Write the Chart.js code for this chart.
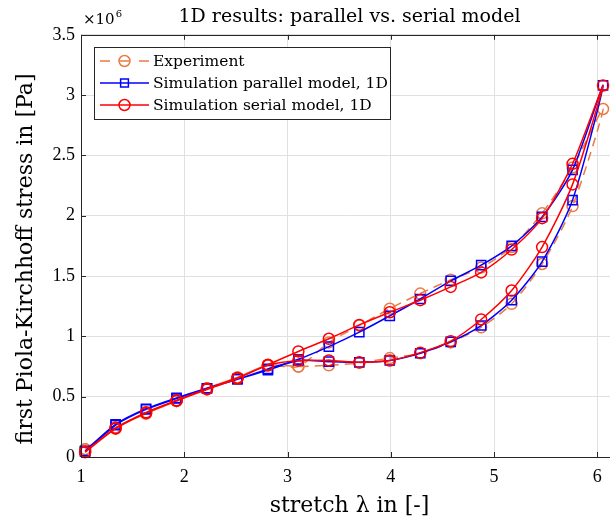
<!DOCTYPE html>
<html>
<head>
<meta charset="utf-8">
<script src="https://cdn.jsdelivr.net/npm/chart.js@4.4.1/dist/chart.umd.min.js"></script>
<style>
  html, body { margin: 0; padding: 0; background: #fff; overflow: hidden; }
  #wrap { width: 640px; height: 522px; }
</style>
</head>
<body>
<div id="wrap"><canvas id="loop" width="640" height="522"></canvas></div>
<script>
(function () {

// ---------------------------------------------------------------------------------------------------
// stretch steps (shared by loading and unloading), stress in 1e6 Pa

var stretch = [1.04, 1.335, 1.63, 1.925, 2.22, 2.515, 2.81, 3.105, 3.40,
               3.695, 3.99, 4.285, 4.58, 4.875, 5.17, 5.465, 5.76, 6.055];

// upper branch, index 0..17
var expUpper = [0.065, 0.245, 0.36, 0.465, 0.57, 0.66, 0.76, 0.75, 0.95,
                1.09, 1.23, 1.355, 1.47, 1.57, 1.74, 2.02, 2.40, 2.885];
var parUpper = [0.05, 0.27, 0.40, 0.49, 0.57, 0.645, 0.73, 0.81, 0.915,
                1.035, 1.17, 1.31, 1.46, 1.59, 1.75, 1.99, 2.38, 3.08];
var serUpper = [0.045, 0.24, 0.37, 0.47, 0.565, 0.655, 0.765, 0.875, 0.98,
                1.095, 1.20, 1.30, 1.41, 1.53, 1.72, 1.98, 2.43, 3.08];

// lower branch, index 0..16 (walked back from the last upper point)
var expLower = [0.065, 0.245, 0.36, 0.465, 0.57, 0.66, 0.76, 0.75, 0.76,
                0.78, 0.82, 0.86, 0.95, 1.075, 1.27, 1.60, 2.08];
var parLower = [0.045, 0.265, 0.395, 0.485, 0.57, 0.645, 0.72, 0.80, 0.79,
                0.785, 0.80, 0.86, 0.955, 1.09, 1.30, 1.62, 2.13];
var serLower = [0.04, 0.235, 0.365, 0.465, 0.56, 0.65, 0.76, 0.80, 0.80,
                0.785, 0.80, 0.865, 0.96, 1.14, 1.38, 1.74, 2.26];

var xTicks = [1, 2, 3, 4, 5, 6];
var yTicks = [0, 0.5, 1, 1.5, 2, 2.5, 3, 3.5];

var SERIF = "'DejaVu Serif', serif";
var DIGITS = "'Liberation Serif', serif";
var INK = '#262626';

// ---------------------------------------------------------------------------------------------------

function loop(upper, lower) {
    var pts = [];
    for (var i = 0; i < upper.length; i++) pts.push({ x: stretch[i], y: upper[i] });
    for (var j = lower.length - 1; j >= 0; j--) pts.push({ x: stretch[j], y: lower[j] });
    return pts;
}

function series(label, color, upper, lower, style, radius, dash, order) {
    return {
        label: label,
        data: loop(upper, lower),
        borderColor: color,
        borderWidth: 1.5,
        borderDash: dash,
        backgroundColor: 'rgba(0,0,0,0)',
        pointStyle: style,
        pointRadius: radius,
        pointBorderWidth: 1.5,
        pointBorderColor: color,
        pointBackgroundColor: 'rgba(0,0,0,0)',
        tension: 0.25,
        clip: 8,
        order: order
    };
}

// frame, inward ticks, y label and the x10^6 exponent
var framePlugin = {
    id: 'frame',
    afterDatasetsDraw: function (chart) {
        var a = chart.chartArea, ctx = chart.ctx;
        var xs = chart.scales.x, ys = chart.scales.y;
        ctx.save();
        ctx.strokeStyle = INK;
        ctx.lineWidth = 1;
        ctx.beginPath();
        xTicks.forEach(function (t) {
            var px = Math.round(xs.getPixelForValue(t)) + 0.5;
            ctx.moveTo(px, a.bottom); ctx.lineTo(px, a.bottom - 5);
            ctx.moveTo(px, a.top); ctx.lineTo(px, a.top + 5);
        });
        yTicks.forEach(function (t) {
            var py = Math.round(ys.getPixelForValue(t)) + 0.5;
            ctx.moveTo(a.left, py); ctx.lineTo(a.left + 5, py);
        });
        ctx.stroke();
        ctx.strokeRect(Math.round(a.left) + 0.5, Math.round(a.top) + 0.5,
                       Math.round(a.right - a.left), Math.round(a.bottom - a.top));

        ctx.fillStyle = '#000';
        ctx.textBaseline = 'alphabetic';
        ctx.textAlign = 'left';
        ctx.font = '15px ' + SERIF;
        ctx.fillText('\u00d710', a.left + 2, a.top - 11);
        var w = ctx.measureText('\u00d710').width;
        ctx.font = '10px ' + SERIF;
        ctx.fillText('6', a.left + 3 + w, a.top - 18);

        ctx.translate(32, 259);
        ctx.rotate(-Math.PI / 2);
        ctx.textAlign = 'center';
        ctx.font = '22px ' + SERIF;
        ctx.fillText('first Piola-Kirchhoff stress in [Pa]', 0, 0);
        ctx.restore();
    }
};

// boxed legend in the upper left of the axes
var legendPlugin = {
    id: 'boxLegend',
    afterDraw: function (chart) {
        var ctx = chart.ctx;
        var bx = 94.5, by = 47.5, bw = 296, bh = 72, row = 22;
        ctx.save();
        ctx.fillStyle = '#fff';
        ctx.fillRect(bx, by, bw, bh);
        ctx.strokeStyle = INK;
        ctx.lineWidth = 1;
        ctx.strokeRect(bx, by, bw, bh);
        chart.data.datasets.forEach(function (ds, i) {
            var y = by + 13.5 + i * row;
            ctx.strokeStyle = ds.borderColor;
            ctx.lineWidth = ds.borderWidth;
            ctx.setLineDash(ds.borderDash && ds.borderDash.length ? [10, 9.5] : []);
            ctx.beginPath();
            ctx.moveTo(100, y); ctx.lineTo(149, y);
            ctx.stroke();
            ctx.setLineDash([]);
            ctx.fillStyle = 'rgba(0,0,0,0)';
            Chart.helpers.drawPoint(ctx, {
                pointStyle: ds.pointStyle, radius: ds.pointStyle === 'rect' ? 5.5 : ds.pointRadius,
                borderWidth: ds.pointBorderWidth, rotation: 0
            }, 124.5, y);
            ctx.fillStyle = '#000';
            ctx.font = '15.5px ' + SERIF;
            ctx.textBaseline = 'middle';
            ctx.fillText(ds.label, 153, y + 1);
        });
        ctx.restore();
    }
};

// ---------------------------------------------------------------------------------------------------

var canvas = document.getElementById('loop');
new Chart(canvas.getContext('2d'), {
    type: 'line',
    data: {
        datasets: [
            series('Experiment', '#EA7A42', expUpper, expLower, 'circle', 5.5, [9, 6], 3),
            series('Simulation parallel model, 1D', '#0000FF', parUpper, parLower, 'rect', 6.5, [], 2),
            series('Simulation serial model, 1D', '#FF0000', serUpper, serLower, 'circle', 5.5, [], 1)
        ]
    },
    options: {
        responsive: false,
        animation: false,
        layout: { padding: { left: 0, right: 22, top: 0, bottom: 0 } },
        plugins: {
            legend: { display: false },
            tooltip: { enabled: false },
            title: {
                display: true,
                text: '1D results: parallel vs. serial model',
                fullSize: false,
                color: '#000',
                font: { family: SERIF, size: 19, weight: 'normal', lineHeight: 1.2 },
                padding: { top: 6, bottom: 6 }
            }
        },
        scales: {
            x: {
                type: 'linear',
                min: 1, max: 6.2,
                afterFit: function (s) { s.height = 65; },
                afterBuildTicks: function (s) { s.ticks = xTicks.map(function (v) { return { value: v }; }); },
                grid: { color: '#E0E0E0', drawTicks: false },
                border: { display: false },
                ticks: {
                    color: '#000', padding: 9, font: { family: DIGITS, size: 18 },
                    callback: function (v) { return String(v); }
                },
                title: {
                    display: true,
                    text: 'stretch \u03bb in [-]',
                    color: '#000',
                    font: { family: SERIF, size: 22, lineHeight: 1.2 },
                    padding: { top: 0, bottom: 3 }
                }
            },
            y: {
                min: 0, max: 3.5,
                afterFit: function (s) { s.width = 81; },
                afterBuildTicks: function (s) { s.ticks = yTicks.map(function (v) { return { value: v }; }); },
                grid: { color: '#E0E0E0', drawTicks: false },
                border: { display: false },
                ticks: {
                    color: '#000', padding: 6, font: { family: DIGITS, size: 18 },
                    callback: function (v) { return String(v); }
                }
            }
        }
    },
    plugins: [framePlugin, legendPlugin]
});

})();
</script>
</body>
</html>
